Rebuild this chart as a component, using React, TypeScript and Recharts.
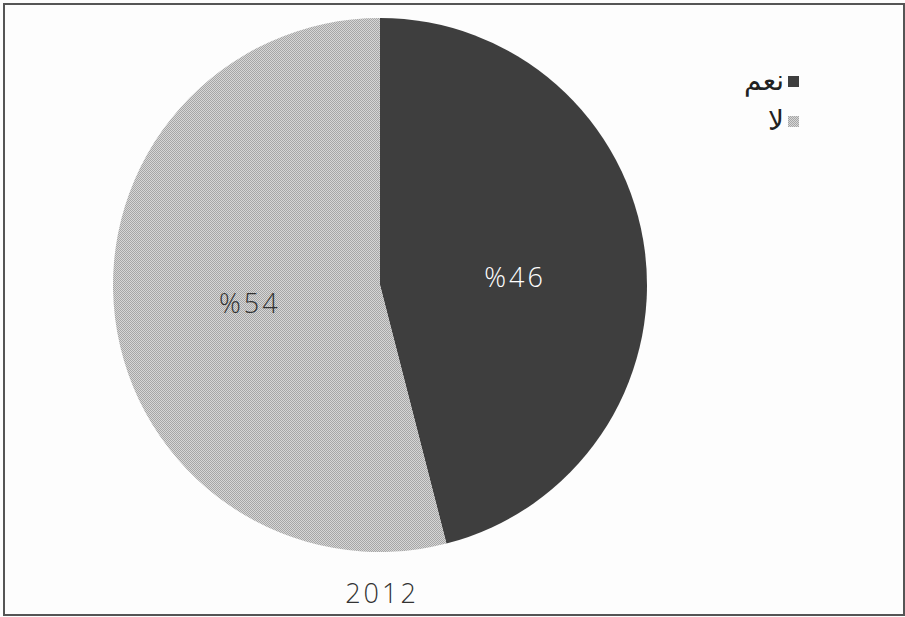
import React from "react";
import { PieChart, Pie, Cell } from "recharts";

const categories = ["نعم", "لا"];
const values = [46, 54];
const labels = ["%46", "%54"];
const yearLabel = "2012";

const COLORS = ["#3e3e3e", "url(#dotPattern)"];
const LEGEND_COLORS = ["#3e3e3e", "url(#dotPattern)"];
const LABEL_COLORS = ["#ffffff", "#333333"];
const LABEL_DY = [9, 0];
const LABEL_DX = [0, 5];

const data = categories.map((name, i) => ({ name, value: values[i], label: labels[i] }));

const RADIAN = Math.PI / 180;

const renderLabel = (props: any) => {
  const { cx, cy, midAngle, outerRadius, index } = props;
  const r = outerRadius * 0.51;
  const x = cx + r * Math.cos(-midAngle * RADIAN) + LABEL_DX[index];
  const y = cy + r * Math.sin(-midAngle * RADIAN) + LABEL_DY[index];
  return (
    <text
      x={x}
      y={y}
      fill={LABEL_COLORS[index]}
      textAnchor="middle"
      dominantBaseline="central"
      fontFamily="'Open Sans', sans-serif"
      fontWeight={300}
      fontSize={27}
      letterSpacing={3}
    >
      {data[index].label}
    </text>
  );
};

export default function App() {
  return (
    <div
      style={{
        position: "absolute",
        left: 0,
        top: 0,
        width: 905,
        height: 617,
        background: "#fdfdfd",
      }}
    >
      <div
        style={{
          position: "absolute",
          left: 3,
          top: 3,
          width: 898,
          height: 609,
          border: "2px solid #555",
        }}
      />
      <PieChart
        width={905}
        height={617}
        margin={{ top: 0, right: 0, bottom: 0, left: 0 }}
        style={{ position: "absolute", left: 0, top: 0 }}
      >
        <defs>
          <pattern id="dotPattern" width="2" height="2" patternUnits="userSpaceOnUse">
            <rect x="0" y="0" width="2" height="2" fill="#d6d6d6" />
            <rect x="0" y="0" width="1" height="1" fill="#a6a6a6" />
            <rect x="1" y="1" width="1" height="1" fill="#a6a6a6" />
          </pattern>
        </defs>
        <Pie
          data={data}
          dataKey="value"
          nameKey="name"
          cx={380}
          cy={285}
          outerRadius={267}
          startAngle={90}
          endAngle={-270}
          stroke="none"
          labelLine={false}
          label={renderLabel}
          isAnimationActive={false}
        >
          {data.map((d, i) => (
            <Cell key={d.name} fill={COLORS[i]} />
          ))}
        </Pie>
        <text
          x={382}
          y={592}
          textAnchor="middle"
          dominantBaseline="central"
          fontFamily="'Open Sans', sans-serif"
          fontWeight={300}
          fontSize={27}
          letterSpacing={3}
          fill="#333"
        >
          {yearLabel}
        </text>
        {data.map((d, i) => (
          <g key={d.name}>
            <rect x={788} y={76 + i * 40} width={11} height={11} fill={LEGEND_COLORS[i]} />
            <text
              x={784}
              y={80 + i * 40}
              textAnchor="end"
              dominantBaseline="central"
              fontFamily="'DejaVu Sans', sans-serif"
              fontSize={28}
              fill="#222"
            >
              {d.name}
            </text>
          </g>
        ))}
      </PieChart>
    </div>
  );
}
